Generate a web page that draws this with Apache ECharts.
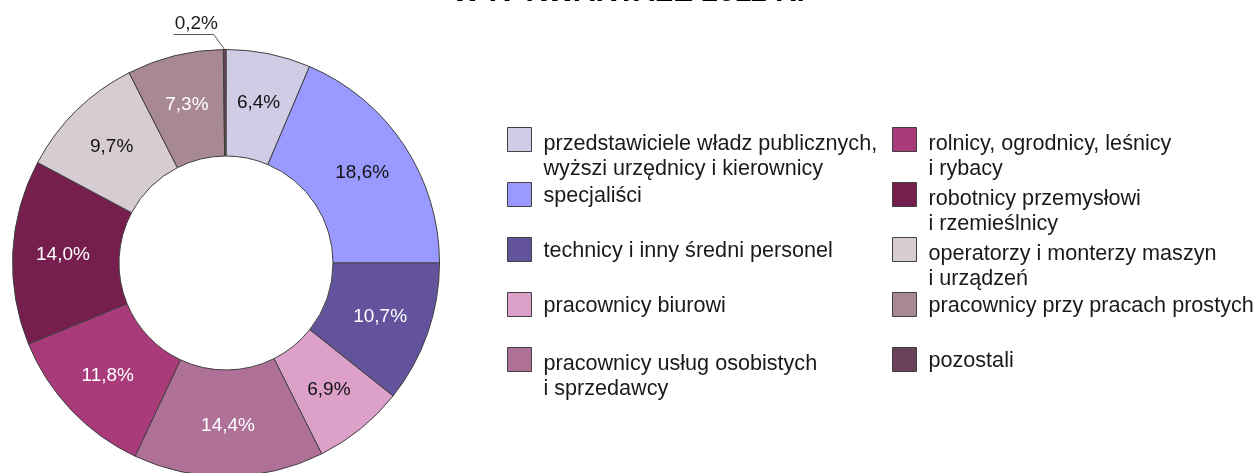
<!DOCTYPE html>
<html>
<head>
<meta charset="utf-8">
<script src="https://cdn.jsdelivr.net/npm/echarts@6/dist/echarts.min.js"></script>
<style>
html,body{margin:0;padding:0;background:#fff;}
#chart{width:1257px;height:473px;}
</style>
</head>
<body>
<div id="chart"></div>
<script>
// ---- data ----
const titleText = 'W IV KWARTALE 2011 R.';
const categories = [
  'przedstawiciele władz publicznych, wyższi urzędnicy i kierownicy',
  'specjaliści',
  'technicy i inny średni personel',
  'pracownicy biurowi',
  'pracownicy usług osobistych i sprzedawcy',
  'rolnicy, ogrodnicy, leśnicy i rybacy',
  'robotnicy przemysłowi i rzemieślnicy',
  'operatorzy i monterzy maszyn i urządzeń',
  'pracownicy przy pracach prostych',
  'pozostali'
];
const legendLabels = [
  'przedstawiciele władz publicznych,\nwyższi urzędnicy i kierownicy',
  'specjaliści',
  'technicy i inny średni personel',
  'pracownicy biurowi',
  'pracownicy usług osobistych\ni sprzedawcy',
  'rolnicy, ogrodnicy, leśnicy\ni rybacy',
  'robotnicy przemysłowi\ni rzemieślnicy',
  'operatorzy i monterzy maszyn\ni urządzeń',
  'pracownicy przy pracach prostych',
  'pozostali'
];
const values = [6.4, 18.6, 10.7, 6.9, 14.4, 11.8, 14.0, 9.7, 7.3, 0.2];

// ---- styles ----
const colors = ['#d0cce6', '#9999ff', '#62539c', '#dda0c9', '#b07199', '#a93b7b', '#761e4e', '#d7ccd2', '#a88893', '#6b4358'];
const labelColors = ['#111', '#111', '#fff', '#111', '#fff', '#fff', '#fff', '#111', '#fff', '#111'];
const FONT = '"Liberation Sans", Arial, sans-serif';

const chart = echarts.init(document.getElementById('chart'), null, {renderer: 'canvas'});

// legend grid (icon positions)
const colX = [507, 892];
const rowY = [127, 182, 237, 292, 347];
const ITEM = 24, LH = 24.5;
const legends = categories.map((name, i) => {
  const col = i < 5 ? 0 : 1;
  const row = i % 5;
  const lines = legendLabels[i].split('\n');
  const spacer = lines.length === 1 ? 4 : 34;
  const ext = Math.max(0, lines.length * LH / 2 - ITEM / 2);
  const rich = '{s| }\n' + lines.map(l => '{t|' + l + '}').join('\n');
  return {
    data: [name],
    orient: 'vertical',
    left: colX[col],
    top: rowY[row] - ext,
    padding: 0,
    itemWidth: ITEM,
    itemHeight: ITEM,
    icon: 'rect',
    selectedMode: false,
    itemStyle: {borderColor: '#404040', borderWidth: 1},
    formatter: () => rich,
    textStyle: {
      fontFamily: FONT, fontSize: 21.6, color: '#1a1a1a',
      padding: [0, 0, 0, 7],
      rich: {
        s: {fontSize: 1, lineHeight: spacer},
        t: {fontFamily: FONT, fontSize: 21.6, lineHeight: LH, color: '#1a1a1a'}
      }
    }
  };
});

const fmt = v => v.toFixed(1).replace('.', ',') + '%';

chart.setOption({
  animation: false,
  backgroundColor: '#fff',
  title: {
    text: titleText,
    left: 'center',
    top: -22.3,
    padding: 0,
    textStyle: {fontFamily: FONT, fontWeight: 'bold', fontSize: 30, color: '#000'}
  },
  legend: legends,
  series: [{
    type: 'pie',
    center: [226, 263],
    radius: [107, 213.5],
    startAngle: 90,
    clockwise: true,
    avoidLabelOverlap: false,
    minShowLabelAngle: 0,
    emphasis: {disabled: true},
    itemStyle: {borderColor: '#404040', borderWidth: 1},
    label: {
      show: true,
      position: 'inside',
      fontFamily: FONT,
      fontSize: 19,
      formatter: p => fmt(p.value)
    },
    labelLine: {show: false},
    labelLayout: function (params) {
      if (params.dataIndex !== values.length - 1) return {};
      const pts = params.labelLinePoints;
      if (!pts) return {};
      const x0 = pts[0][0], y0 = pts[0][1];
      return {
        x: x0 - 50,
        y: y0 - 16,
        align: 'left',
        verticalAlign: 'bottom',
        labelLinePoints: [[x0, y0], [x0 - 11, y0 - 15], [x0 - 51, y0 - 15]]
      };
    },
    data: categories.map((name, i) => {
      const d = {
        name: name,
        value: values[i],
        itemStyle: {color: colors[i]},
        label: {color: labelColors[i]}
      };
      if (i === values.length - 1) {
        d.label = {color: '#1a1a1a', position: 'outside', fontSize: 19};
        d.labelLine = {show: true, length: 8, length2: 30, lineStyle: {color: '#555', width: 1}};
      }
      return d;
    })
  }]
});
</script>
</body>
</html>
